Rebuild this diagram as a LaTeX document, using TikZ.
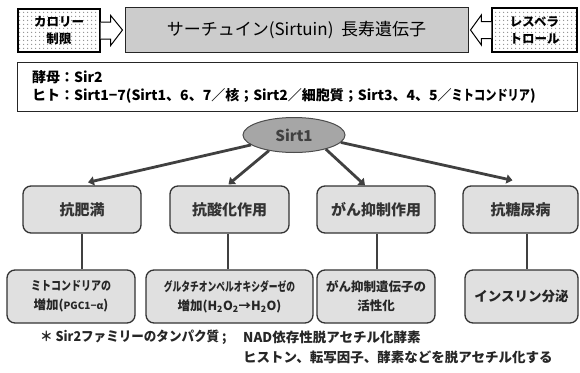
\documentclass[tikz,border=0pt]{standalone}
\usepackage{fontspec}
\setmainfont{Noto Sans CJK JP}
\newfontfamily\condA[FakeStretch=0.8]{Noto Sans CJK JP}
\newfontfamily\condB[FakeStretch=0.7]{Noto Sans CJK JP}
\newfontfamily\condC[FakeStretch=0.93]{Noto Sans CJK JP}
\usetikzlibrary{patterns.meta,arrows.meta,calc,shapes.geometric}
\begin{document}
\begin{tikzpicture}[x=1pt,y=-1pt,
  dotbox/.style={draw=black,line width=1.3pt,pattern={Dots[distance=4pt,radius=0.9pt]},pattern color=black!45,
    minimum width=82pt,minimum height=43pt,inner sep=0pt,align=center,
    font=\bfseries\fontsize{12.5}{17}\selectfont},
  mainbox/.style={draw=black!85,line width=1pt,fill=black!20,minimum width=343pt,minimum height=45pt,
    inner sep=0pt,font=\fontsize{17}{20}\selectfont},
  hollow/.style={draw=black,line width=1pt,fill=white,line join=miter},
  infobox/.style={draw=black!85,line width=1pt,minimum width=560pt,minimum height=49pt,inner sep=0pt},
  l2box/.style={draw=black!80,line width=1.3pt,fill=black!12,rounded corners=8pt,minimum height=47pt,
    inner sep=0pt,text=black!80,font=\bfseries\fontsize{15}{18}\selectfont},
  l3box/.style={draw=black!80,line width=1.3pt,fill=black!12,rounded corners=8pt,minimum height=53pt,
    inner sep=0pt,align=center,text=black!85,font=\bfseries\fontsize{12.5}{19}\selectfont},
  sarrow/.style={draw=black!75,line width=2.8pt,-{Triangle[length=6pt,width=9pt]}},
  vline/.style={draw=black!75,line width=2pt},
  notetext/.style={inner sep=0pt,font=\bfseries\fontsize{13.5}{20}\selectfont,text=black!85}
]
\useasboundingbox (0,0) rectangle (580,372);

% top row
\node[dotbox] (cal) at (59,30.5) {カロリー\\制限};
\node[mainbox] (main) at (296.5,30) {サーチュイン(Sirtuin)\ \ 長寿遺伝子};
\node[dotbox,minimum width=85pt,minimum height=44pt] (res) at (534.5,30) {レスベラ\\トロール};

\draw[hollow] ($(cal.east)+(0,-8.5)$) -- ($(cal.east)+(10,-8.5)$) -- ($(cal.east)+(10,-15)$)
  -- ($(main.west)+(-2,0)$) -- ($(cal.east)+(10,15)$) -- ($(cal.east)+(10,8.5)$) -- ($(cal.east)+(0,8.5)$);
\draw[hollow] ($(res.west)+(0,-8.5)$) -- ($(res.west)+(-10,-8.5)$) -- ($(res.west)+(-10,-15)$)
  -- ($(main.east)+(2,0)$) -- ($(res.west)+(-10,15)$) -- ($(res.west)+(-10,8.5)$) -- ($(res.west)+(0,8.5)$);

% info box
\node[infobox] (info) at (297,86.5) {};
\node[anchor=west,align=left,inner sep=0pt,font=\bfseries\fontsize{14}{18}\selectfont] (infotext) at (32,86.5)
  {酵母：Sir2\\ヒト：Sirt1−7(Sirt1、6、7／核；Sirt2／細胞質；Sirt3、4、5／{\condA ミトコンドリア})};

% Sirt1
\node[ellipse,draw=black!70,line width=1pt,fill=black!35,minimum width=102pt,minimum height=35pt,inner sep=0pt,
  text=black!75,font=\bfseries\fontsize{15}{18}\selectfont] (sirt) at (294,135) {Sirt1};

% level 2
\node[l2box,minimum width=118pt] (a1) at (82,209.5) {抗肥満};
\node[l2box,minimum width=119pt] (a2) at (229.5,209.5) {抗酸化作用};
\node[l2box,minimum width=118pt] (a3) at (376,209.5) {がん抑制作用};
\node[l2box,minimum width=115pt] (a4) at (520.5,209.5) {抗糖尿病};

% level 3
\node[l3box,minimum width=128pt] (b1) at (71,296.5) {{\condA ミトコンドリアの}\\増加({\fontsize{10}{12}\selectfont PGC1−α})};
\node[l3box,minimum width=167pt] (b2) at (229.5,296.5) {{\condB グルタチオンペルオキシダーゼの}\\増加(H\textsubscript{2}O\textsubscript{2}→H\textsubscript{2}O)};
\node[l3box,minimum width=118pt] (b3) at (376,296.5) {がん抑制遺伝子の\\活性化};
\node[l3box,minimum width=113pt,font=\bfseries\fontsize{13.5}{18}\selectfont] (b4) at (521.5,296.5) {インスリン分泌};

% arrows from Sirt1
\draw[sarrow] (sirt.193) -- ([xshift=6pt,yshift=3pt]a1.north);
\draw[sarrow] (sirt.212) -- ([xshift=-1pt,yshift=1pt]a2.north);
\draw[sarrow] (sirt.-24) -- ([xshift=-11pt]a3.north);
\draw[sarrow] (sirt.-9) -- ([xshift=-8pt,yshift=5pt]a4.north);

% vertical connectors
\draw[vline] (a1.south) -- (b1.north -| a1.south);
\draw[vline] ([xshift=-1.5pt]a2.south) -- ([xshift=-1.5pt]a2.south |- b2.north);
\draw[vline] ([xshift=1pt]a3.south) -- ([xshift=1pt]a3.south |- b3.north);
\draw[vline] ([xshift=6.5pt]a4.south) -- ([xshift=6.5pt]a4.south |- b4.north);

% note
\node[notetext,anchor=west] (notea) at (40,337) {\condC ＊ Sir2ファミリーのタンパク質 ;};
\node[notetext,anchor=west,align=left] (noteb) at (243,347) {NAD依存性脱アセチル化酵素\\ヒストン、転写因子、酵素などを脱アセチル化する};
\end{tikzpicture}
\end{document}
